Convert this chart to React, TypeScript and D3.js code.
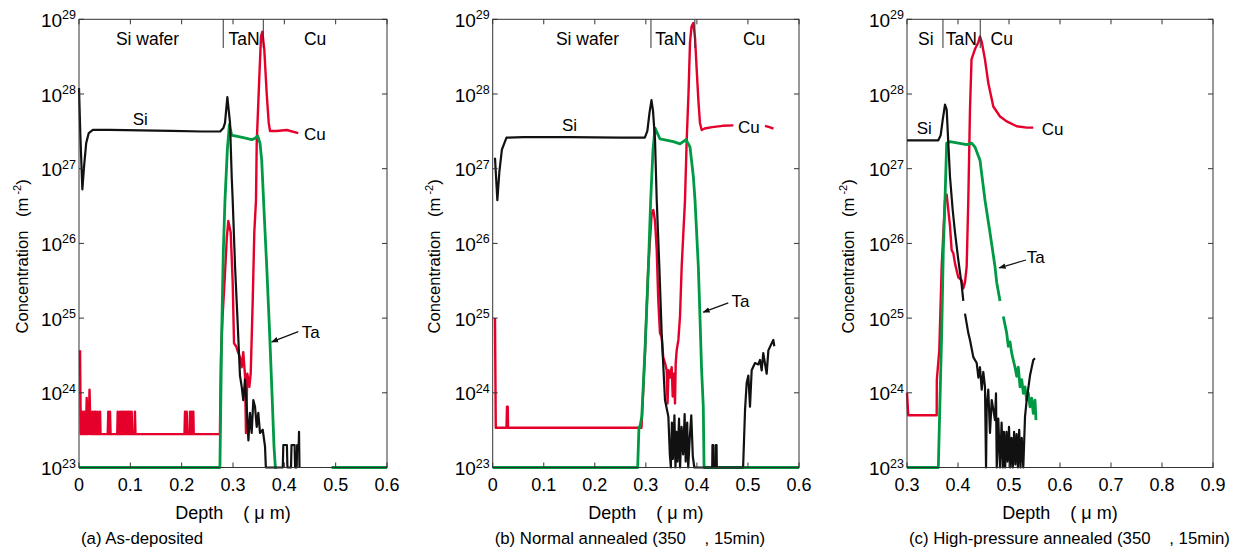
import React from 'react';
import * as d3 from 'd3';

type Pt = [number, number] | null;

// depth (um), concentration (m^-2)
const siA: Pt[] = [
  [0, 1.2e28], [0.0025, 3e27], [0.0065, 5.3e26], [0.01, 1.1e27], [0.014, 2.2e27], [0.019, 3.0e27],
  [0.027, 3.3e27], [0.06, 3.3e27], [0.12, 3.25e27], [0.18, 3.2e27], [0.24, 3.15e27], [0.275, 3.15e27],
  [0.2812, 3.5e27], [0.2844, 4.1e27], [0.289, 9.1e27], [0.2942, 4.1e27], [0.2975, 7.8e26], [0.2994, 3.8e26],
  [0.304, 4.9e25], [0.3085, 1.05e25], [0.3136, 1.7e24], [0.317, 1.2e24], [0.32, 8e23], [0.3234, 1.5e24],
  [0.3267, 6.5e23], [0.33, 2.3e23], [0.3331, 5.4e23], [0.3364, 2.9e23], [0.3396, 8e23], [0.3429, 6.5e23],
  [0.3462, 3.5e23], [0.3493, 5.4e23], [0.3526, 2.9e23], [0.3579, 3.2e23], [0.3624, 1.9e23], [0.364, 1e23],
  [0.397, 1e23], [0.398, 2e23], [0.405, 2e23], [0.406, 1e23], [0.413, 1e23], [0.414, 2e23], [0.42, 2e23],
  [0.421, 1e23], [0.424, 1e23], [0.425, 2e23], [0.428, 2e23], [0.4286, 3e23], [0.4295, 1e23],
];
const cuA: Pt[] = [
  [0.002, 3.7e24], [0.0035, 2.8e23],
  [0.0055, 2.8e23], [0.0065, 5.6e23], [0.0075, 2.8e23],
  [0.009, 2.8e23], [0.0104, 5.6e23], [0.0115, 2.8e23],
  [0.0135, 2.8e23], [0.015, 8.5e23], [0.0165, 2.8e23],
  [0.0185, 2.8e23], [0.0205, 1.1e24], [0.0225, 2.8e23],
  [0.025, 2.8e23], [0.026, 5.6e23], [0.027, 2.8e23],
  [0.029, 2.8e23], [0.03, 5.6e23], [0.031, 2.8e23],
  [0.0315, 2.8e23], [0.0325, 5.6e23], [0.0335, 2.8e23],
  [0.0355, 2.8e23], [0.0364, 5.6e23], [0.0375, 2.8e23],
  [0.04, 2.8e23], [0.041, 5.6e23], [0.042, 2.8e23],
  [0.056, 2.8e23], [0.057, 5.6e23], [0.0585, 2.8e23],
  [0.0595, 2.8e23], [0.0604, 5.6e23], [0.0615, 2.8e23],
  [0.0745, 2.8e23], [0.0754, 5.6e23], [0.0765, 2.8e23],
  [0.079, 2.8e23], [0.0799, 5.6e23], [0.081, 2.8e23],
  [0.0825, 2.8e23], [0.0832, 5.6e23], [0.084, 2.8e23],
  [0.0855, 2.8e23], [0.0864, 5.6e23], [0.0875, 2.8e23],
  [0.089, 2.8e23], [0.0896, 5.6e23], [0.0905, 2.8e23],
  [0.092, 2.8e23], [0.0929, 5.6e23], [0.094, 2.8e23],
  [0.095, 2.8e23], [0.096, 5.6e23], [0.097, 2.8e23],
  [0.0985, 2.8e23], [0.0994, 5.6e23], [0.1005, 2.8e23],
  [0.1015, 2.8e23], [0.1026, 5.6e23], [0.1035, 2.8e23],
  [0.108, 2.8e23], [0.109, 5.6e23], [0.11, 2.8e23],
  [0.2055, 2.8e23], [0.2065, 5.6e23], [0.2075, 2.8e23],
  [0.209, 2.8e23], [0.2098, 5.6e23], [0.211, 2.8e23],
  [0.2155, 2.8e23], [0.2163, 5.6e23], [0.2175, 2.8e23],
  [0.219, 2.8e23], [0.2195, 5.6e23], [0.2205, 2.8e23],
  [0.222, 2.8e23], [0.2227, 5.6e23], [0.2235, 2.8e23],
  [0.2745, 2.8e23], [0.2765, 3e24], [0.2795, 1.0e25], [0.2835, 3e25], [0.288, 1.2e26], [0.2909, 2.0e26],
  [0.2955, 1.4e26], [0.2994, 3e25], [0.302, 4.6e24], [0.306, 4.2e24], [0.3104, 3.4e24], [0.3136, 3e24],
  [0.317, 2.2e24], [0.32, 3.5e24], [0.3234, 1.7e24], [0.3253, 2.9e23], [0.3279, 1.8e24], [0.3318, 1.2e24],
  [0.3345, 1.8e24], [0.3384, 1.7e25], [0.3415, 1.4e26], [0.3448, 3.8e26], [0.3462, 2.2e27], [0.3513, 1.7e28],
  [0.3546, 5.9e28], [0.3571, 6.8e28], [0.361, 3.9e28], [0.3657, 1.0e28], [0.3696, 4.1e27], [0.3721, 3.2e27],
  [0.385, 3.2e27], [0.4047, 3.3e27], [0.4272, 3.0e27],
];
const taA: Pt[] = [
  [0, 1e23], [0.2745, 1e23], [0.278, 6.3e24], [0.2812, 8.1e25], [0.2844, 3.8e26], [0.289, 1.8e27],
  [0.2929, 3.9e27], [0.2975, 2.8e27], [0.304, 2.75e27], [0.32, 2.6e27], [0.3365, 2.45e27], [0.343, 2.55e27],
  [0.3481, 2.75e27], [0.3526, 2.2e27], [0.3559, 1.3e27], [0.3604, 2.8e26], [0.3657, 4.9e25], [0.3708, 7.8e24],
  [0.3755, 1.2e24], [0.3799, 1.9e23], [0.3825, 1e23], [0.385, 1e23], null, [0.492, 1e23], [0.6, 1e23],
];

const siB: Pt[] = [
  [0.0045, 1.4e27], [0.0091, 3.8e26], [0.013, 9e26], [0.018, 1.8e27], [0.027, 2.6e27], [0.06, 2.65e27],
  [0.15, 2.65e27], [0.25, 2.6e27], [0.298, 2.6e27], [0.303, 3.2e27], [0.307, 5.5e27], [0.311, 8.3e27],
  [0.314, 6e27], [0.318, 2.4e27], [0.3213, 3.8e26], [0.3264, 4.9e25], [0.331, 6.3e24], [0.3375, 8e23],
  [0.3441, 4.8e23], [0.347, 1.5e23], [0.349, 1e23], [0.351, 4e23], [0.353, 1.3e23], [0.356, 5e23],
  [0.358, 1e23], [0.36, 3e23], [0.362, 1.2e23], [0.365, 4.5e23], [0.367, 1e23], [0.37, 3.5e23],
  [0.373, 1.5e23], [0.376, 5.2e23], [0.378, 1.2e23], [0.381, 4e23], [0.383, 1e23], [0.386, 2.5e23],
  [0.389, 5e23], [0.392, 1.4e23], [0.395, 1e23], [0.43, 1e23], [0.4305, 2e23], [0.432, 2e23],
  [0.4325, 1e23], [0.4365, 1e23], [0.437, 2e23], [0.4385, 2e23], [0.439, 1e23], [0.4905, 1e23],
  [0.4943, 5.9e23], [0.4975, 1.35e24], [0.5008, 1.7e24], [0.504, 6.5e23], [0.5073, 2e24], [0.5138, 2.5e24],
  [0.5203, 2.4e24], [0.5236, 2.75e24], [0.5269, 2e24], [0.53, 3.4e24], [0.5367, 1.8e24], [0.54, 3.7e24],
  [0.5465, 4.6e24], [0.5497, 5.1e24], [0.5516, 4.2e24],
];
const cuB: Pt[] = [
  [0.0045, 1.0e25], [0.006, 3.4e23], [0.027, 3.4e23], [0.028, 6.5e23], [0.0295, 6.5e23], [0.03, 3.4e23],
  [0.2915, 3.4e23], [0.2985, 3.7e24], [0.3048, 4.9e25], [0.3114, 2.5e26], [0.3146, 2.8e26], [0.318, 2.0e26],
  [0.3213, 8.1e25], [0.3244, 1.7e25], [0.3277, 6.3e24], [0.331, 5.6e24], [0.334, 3.0e24], [0.3375, 2.5e24],
  [0.3408, 2.0e24], [0.3425, 7.2e23], [0.3445, 2.0e24], [0.3473, 1.6e24], [0.3506, 2.2e24], [0.3526, 8.9e23],
  [0.3551, 1.8e24], [0.3571, 7.2e23], [0.3585, 2.5e24], [0.3604, 3.7e24], [0.3637, 5.1e24], [0.3669, 1.05e25],
  [0.3702, 4.9e25], [0.3735, 1.4e26], [0.3767, 3.8e26], [0.38, 2.4e27], [0.3835, 1.0e28], [0.3865, 4.9e28],
  [0.3895, 8e28], [0.393, 8.9e28], [0.3965, 5.5e28], [0.3996, 2.1e28], [0.403, 8e27], [0.406, 4.1e27],
  [0.4094, 3.3e27], [0.415, 3.45e27], [0.43, 3.6e27], [0.45, 3.75e27], [0.4714, 3.8e27], null,
  [0.5334, 3.75e27], [0.542, 3.6e27], [0.55, 3.45e27],
];
const taB: Pt[] = [
  [0, 1e23], [0.284, 1e23], [0.2865, 3.5e23], [0.2885, 3.5e23], [0.292, 4.8e23], [0.2983, 3.7e24],
  [0.305, 4.9e25], [0.3095, 3.8e26], [0.314, 1.8e27], [0.318, 3.5e27], [0.3277, 2.5e27], [0.354, 2.3e27],
  [0.367, 2.15e27], [0.3787, 2.45e27], [0.3865, 1.95e27], [0.393, 7.9e26], [0.3963, 3.8e26], [0.4028, 4.9e25],
  [0.406, 1.05e25], [0.409, 2.2e24], [0.4125, 6.5e23], [0.414, 1e23], [0.6, 1e23],
];

const siC: Pt[] = [
  [0.3, 2.4e27], [0.3614, 2.4e27], [0.366, 2.8e27], [0.37, 4.5e27], [0.3745, 7.2e27], [0.3778, 6.2e27],
  [0.381, 2.2e27], [0.3843, 7.8e26], [0.3896, 2.8e26], [0.3941, 1.4e26], [0.4006, 6e25], [0.4073, 2.75e25],
  [0.4104, 1.7e25], null, [0.4137, 1.15e25], [0.4202, 6.3e24], [0.4235, 5.1e24], [0.43, 3.0e24],
  [0.4367, 2.5e24], [0.44, 1.6e24], [0.4431, 2.2e24], [0.4465, 1.1e24], [0.4496, 1.9e24], [0.4529, 1.2e24],
  [0.455, 1e23], [0.4563, 6.5e23], [0.4594, 1.1e24], [0.4627, 2.9e23], [0.4661, 8e23], [0.4692, 6e23],
  [0.4725, 4.3e23], [0.4745, 9.8e23], [0.476, 1e23], [0.479, 4.5e23], [0.4824, 1e23], [0.4855, 4e23],
  [0.488, 1e23], [0.49, 3e23], [0.4925, 1e23], [0.495, 3e23], [0.4975, 1.2e23], [0.5, 3.5e23],
  [0.5025, 1e23], [0.505, 2.5e23], [0.5075, 1e23], [0.51, 3e23], [0.5125, 1.1e23], [0.515, 2.8e23],
  [0.5175, 1e23], [0.52, 3.2e23], [0.5225, 1e23], [0.525, 2.5e23], [0.528, 1e23], [0.5314, 4.8e23],
  [0.5347, 8e23], [0.5412, 1.7e24], [0.5476, 2.75e24], [0.551, 2.9e24],
];
const cuC: Pt[] = [
  [0.3, 1.0e24], [0.3025, 5e23], [0.3582, 5e23], [0.3585, 1.5e24], [0.3633, 3.7e24], [0.368, 4.9e25],
  [0.3745, 3.8e26], [0.3778, 4.5e26], [0.3843, 1.7e26], [0.3876, 8.1e25], [0.3908, 7.4e25], [0.3941, 5.4e25],
  [0.4006, 3.5e25], [0.4073, 3.2e25], [0.4104, 2.5e25], [0.4137, 3e25], [0.417, 4.9e25], [0.4202, 3.8e26],
  [0.4235, 6.2e27], [0.4265, 2.9e28], [0.4333, 4.0e28], [0.4398, 4.9e28], [0.4431, 5.9e28], [0.4465, 5e28],
  [0.4529, 2.9e28], [0.4594, 1.4e28], [0.4692, 6.8e27], [0.4824, 5e27], [0.4955, 4.3e27], [0.5151, 3.7e27],
  [0.5347, 3.55e27], [0.5476, 3.55e27],
];
const taC: Pt[] = [
  [0.3, 1e23], [0.3614, 1e23], [0.3647, 8e23], [0.368, 6.3e24], [0.3712, 8.1e25], [0.3745, 3.8e26],
  [0.3778, 2.2e27], [0.3843, 2.3e27], [0.417, 2.1e27], [0.4269, 2.2e27], [0.4333, 1.95e27], [0.4431, 1.3e27],
  [0.4529, 3.8e26], [0.4627, 1.4e26], [0.4725, 4.9e25], [0.4759, 3e25], [0.4824, 1.7e25], null,
  [0.4888, 1.05e25], [0.4955, 6.3e24], [0.4986, 4.2e24], [0.502, 4.8e24], [0.5053, 3.4e24], [0.5084, 2.75e24],
  [0.5118, 2.2e24], [0.5151, 1.66e24], [0.5182, 2.2e24], [0.5216, 1.2e24], [0.525, 1.5e24], [0.5281, 9.8e23],
  [0.5314, 1.2e24], [0.5347, 8e23], [0.5378, 1e24], [0.5412, 6.5e23], [0.5445, 8.5e23], [0.5476, 5.3e23],
  [0.551, 8e23], [0.5529, 4.3e23],
];

const yExponents = [23, 24, 25, 26, 27, 28, 29];
const ticksAB = [0, 0.1, 0.2, 0.3, 0.4, 0.5, 0.6];
const ticksC = [0.3, 0.4, 0.5, 0.6, 0.7, 0.8, 0.9];

// layer names at the top: [centre depth, name], and the boundaries between layers
const layersA: [number, string][] = [[0.1335, 'Si wafer'], [0.3214, 'TaN'], [0.46, 'Cu']];
const layersB: [number, string][] = [[0.1857, 'Si wafer'], [0.349, 'TaN'], [0.512, 'Cu']];
const layersC: [number, string][] = [[0.337, 'Si'], [0.4065, 'TaN'], [0.4857, 'Cu']];
const bordersA = [0.281, 0.359];
const bordersB = [0.31, 0.396];
const bordersC = [0.3705, 0.4436];

// element labels: [depth, conc, text]
const labelsA: [number, number, string][] = [[0.1046, 3.8e27, 'Si'], [0.4383, 2.4e27, 'Cu'], [0.4339, 5.4e24, 'Ta']];
const labelsB: [number, number, string][] = [[0.1358, 3.2e27, 'Si'], [0.4805, 3.0e27, 'Cu'], [0.468, 1.4e25, 'Ta']];
const labelsC: [number, number, string][] = [[0.319, 2.9e27, 'Si'], [0.564, 2.8e27, 'Cu'], [0.5347, 5.4e25, 'Ta']];
const arrowA: [number, number][] = [[0.4272, 6.6e24], [0.3754, 4.8e24]];
const arrowB: [number, number][] = [[0.4615, 1.6e25], [0.4125, 1.2e25]];
const arrowC: [number, number][] = [[0.5333, 6e25], [0.481, 4.7e25]];

const RED = '#e4002b';
const GREEN = '#009944';
const BLACK = '#111';
const FONT = "'Liberation Sans', Arial, sans-serif";

const TOP = 19.3;
const BOTTOM = 467.5;
const y = d3.scaleLog().domain([1e23, 1e29]).range([BOTTOM, TOP]);

const panels = [
  { id: 'a', left: 79, right: 387, domain: [0, 0.6], ticks: ticksAB, si: siA, cu: cuA, ta: taA, yLabelX: 28,
    layers: layersA, borders: bordersA, labels: labelsA, arrow: arrowA, caption: '(a) As-deposited' },
  { id: 'b', left: 492.7, right: 799, domain: [0, 0.6], ticks: ticksAB, si: siB, cu: cuB, ta: taB, yLabelX: 440,
    layers: layersB, borders: bordersB, labels: labelsB, arrow: arrowB, caption: '(b) Normal annealed (350    , 15min)' },
  { id: 'c', left: 907, right: 1213, domain: [0.3, 0.9], ticks: ticksC, si: siC, cu: cuC, ta: taC, yLabelX: 854,
    layers: layersC, borders: bordersC, labels: labelsC, arrow: arrowC, caption: '(c) High-pressure annealed (350    , 15min)' },
];

function Panel({ p }: { p: typeof panels[number] }) {
  const x = d3.scaleLinear().domain(p.domain).range([p.left, p.right]);
  const line = d3.line<Pt>()
    .defined(d => d !== null)
    .x(d => x(d![0]))
    .y(d => y(d![1]));
  const tickFmt = (v: number) => (v === 0 ? '0' : d3.format('.1f')(v));
  const mid = (p.left + p.right) / 2;
  return (
    <g>
      <path d={line(p.cu) || ''} fill="none" stroke={RED} strokeWidth={2.4} strokeLinejoin="round" />
      <path d={line(p.ta) || ''} fill="none" stroke={GREEN} strokeWidth={2.8} strokeLinejoin="round" />
      <path d={line(p.si) || ''} fill="none" stroke={BLACK} strokeWidth={2.2} strokeLinejoin="round" />
      <rect x={p.left} y={TOP} width={p.right - p.left} height={BOTTOM - TOP} fill="none" stroke="#333" strokeWidth={1} />
      {p.ticks.map(t => (
        <g key={t}>
          <line x1={x(t)} x2={x(t)} y1={BOTTOM} y2={BOTTOM - 5} stroke="#333" />
          <line x1={x(t)} x2={x(t)} y1={TOP} y2={TOP + 5} stroke="#333" />
          <text x={x(t)} y={491} textAnchor="middle" fontSize={18} fontFamily={FONT}>{tickFmt(t)}</text>
        </g>
      ))}
      {yExponents.map(e => {
        const v = Math.pow(10, e);
        return (
          <g key={e}>
            <line x1={p.left} x2={p.left + 5} y1={y(v)} y2={y(v)} stroke="#333" />
            <line x1={p.right} x2={p.right - 5} y1={y(v)} y2={y(v)} stroke="#333" />
            <text x={p.left - 3} y={y(v) + 7.5} textAnchor="end" fontFamily={FONT} fontSize={19}>
              10<tspan fontSize={12.5} dy={-7.5}>{e}</tspan>
            </text>
          </g>
        );
      })}
      {p.borders.map(b => (
        <line key={b} x1={x(b)} x2={x(b)} y1={TOP} y2={48} stroke="#333" strokeWidth={1} />
      ))}
      {p.layers.map(([d, name]) => (
        <text key={name} x={x(d)} y={45} textAnchor="middle" fontSize={17.5} fontFamily={FONT}>{name}</text>
      ))}
      {p.labels.map(([d, c, name]) => (
        <text key={name} x={x(d)} y={y(c)} fontSize={17} fontFamily={FONT}>{name}</text>
      ))}
      <line x1={x(p.arrow[0][0])} y1={y(p.arrow[0][1])} x2={x(p.arrow[1][0])} y2={y(p.arrow[1][1])}
        stroke="#111" strokeWidth={1.2} markerEnd="url(#arrowHead)" />
      <text transform={`translate(${p.yLabelX},${(TOP + BOTTOM) / 2 + 90}) rotate(-90)`} fontSize={16.5}
        fontFamily={FONT} style={{ whiteSpace: 'pre' }}>
        {'Concentration   (m'}<tspan fontSize={11} dy={-7}>{' -2'}</tspan><tspan dy={7}>)</tspan>
      </text>
      <text x={mid} y={519} textAnchor="middle" fontSize={18} fontFamily={FONT} style={{ whiteSpace: 'pre' }}>
        {'Depth    ( μ m)'}
      </text>
      <text x={p.left + 2} y={544} fontSize={16.8} fontFamily={FONT} style={{ whiteSpace: 'pre' }}>{p.caption}</text>
    </g>
  );
}

export default function App() {
  return (
    <svg width={1243} height={549} style={{ position: 'absolute', left: 0, top: 0, background: '#fff' }}>
      <defs>
        <marker id="arrowHead" viewBox="0 0 10 10" refX={9} refY={5} markerWidth={7} markerHeight={7}
          orient="auto" markerUnits="userSpaceOnUse">
          <path d="M0,1 L10,5 L0,9 Z" fill="#111" />
        </marker>
      </defs>
      <rect width={1243} height={549} fill="#fff" />
      {panels.map(p => (
        <g key={p.id}>
          <Panel p={p} />
        </g>
      ))}
    </svg>
  );
}
